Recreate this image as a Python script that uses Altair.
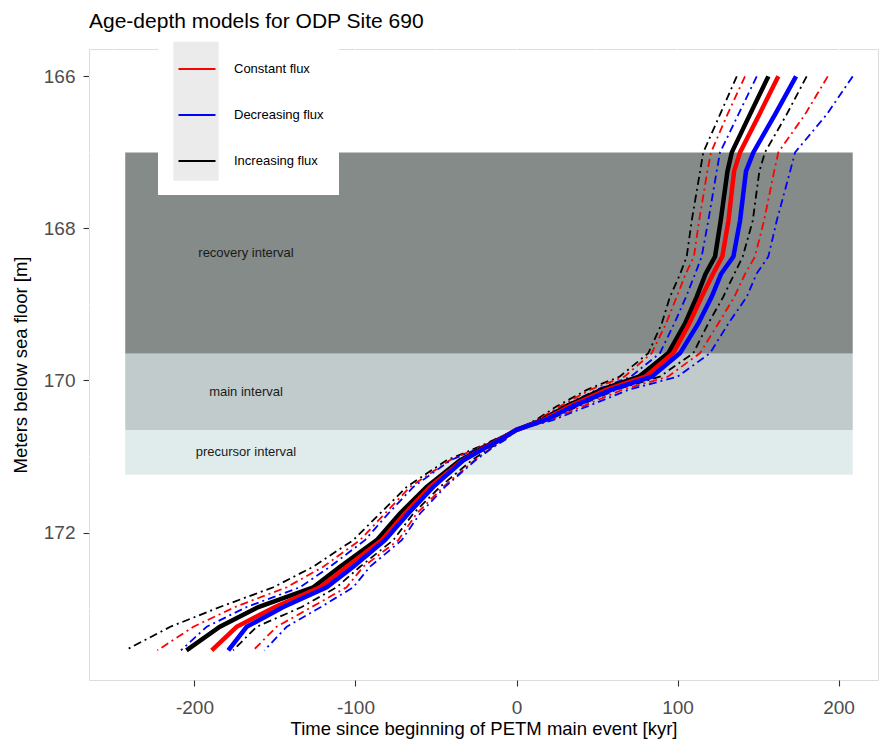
import altair as alt
import pandas as pd

# ---------------- data ----------------
depth = [166.0, 166.5, 167.0, 167.25, 167.9, 168.37, 168.6, 168.9, 169.25, 169.64, 169.95,
         170.12, 170.34, 170.52, 170.65, 170.78, 170.87, 171.05, 171.4, 171.75, 172.1,
         172.45, 172.72, 172.98, 173.24, 173.55]

# lower / median / upper bounds for each flux model (time in kyr)
inc_lo = [136.8, 126.4, 116.0, 114.0, 108.8, 105.7, 101.6, 95.3, 90.2, 81.9, 64, 44, 25, 12, 0,
          -14, -23, -43.4, -68.2, -84.8, -101.4, -126.2, -151, -184.2, -215, -243]
con_lo = [141.9, 131.0, 120.8, 118.5, 113.4, 110.2, 105.0, 99.5, 92.9, 84.0, 67, 46, 27, 13, 0,
          -13.5, -22, -41.5, -66.1, -81.7, -97.2, -120, -142.7, -174.8, -200.7, -223]
dec_lo = [149.2, 137.8, 126.4, 124.3, 119.1, 115.0, 110.9, 105.3, 98.0, 89.1, 71, 50, 29, 14, 0,
          -13, -21, -41, -64.1, -79.6, -94.1, -115.8, -134.5, -167.6, -192.4, -208.4]
inc_med = [156.4, 145.0, 133.7, 131.0, 126.8, 123.3, 117.4, 111.9, 104.7, 94.3, 76, 53, 31, 16, 0,
           -11, -19, -35.1, -55.8, -72.4, -86.8, -109.6, -126.2, -160.3, -184.2, -205]
con_med = [162.6, 150.8, 138.8, 135.1, 131.6, 127.8, 122.0, 115.0, 107.3, 97.4, 80, 56, 33, 17, 0,
           -10.5, -18.5, -33.5, -53.7, -69.3, -83.7, -105.5, -122, -150, -173.8, -189.3]
dec_med = [173.6, 160.6, 147.1, 142.5, 138.8, 134.7, 127.0, 121.2, 112.9, 101.6, 84, 59, 35, 18, 0,
           -10, -18, -33, -51.7, -67.2, -81.7, -101.4, -117.9, -144.8, -167.6, -179]
inc_hi = [180.2, 167.8, 154.3, 150.8, 146.7, 140.5, 135.2, 128.4, 119.1, 109.8, 89, 62, 38, 20, 0,
          -8, -15, -27.8, -47.5, -64.1, -76.5, -97.2, -111.7, -133.4, -161.4, -176]
con_hi = [193.3, 179.2, 162.6, 160.0, 153.7, 148.1, 141.9, 135.3, 125.3, 114.0, 94, 66, 41, 21, 0,
          -7.5, -14.5, -26, -45.5, -62, -73.4, -95.2, -105.5, -127.2, -149, -163.5]
dec_hi = [208.8, 192.7, 173.0, 169.9, 161.6, 156.4, 149.0, 143.0, 131.6, 120.2, 100, 70, 44, 23, 0,
          -7, -14, -25.5, -44.4, -59.9, -71.3, -91, -101.4, -121.5, -142.7, -156.6]

models = ["Constant flux", "Decreasing flux", "Increasing flux"]
model_colors = ["#FF0000", "#0000FF", "#000000"]

intervals = ["recovery interval", "main interval", "precursor interval"]
interval_top = [167.0, 169.65, 170.65]
interval_bottom = [169.65, 170.65, 171.24]
interval_colors = ["#848b89", "#c1cbcb", "#e0ebeb"]
interval_label_t = [-168, -168, -168]

x_ticks = [-200, -100, 0, 100, 200]
x_minor = [-250, -150, -50, 50, 150]
y_ticks = [166, 168, 170, 172]
y_minor = [167, 169, 171, 173]

# ---------------- tables ----------------
def series(model, kind, vals):
    return pd.DataFrame({"t": vals, "d": depth, "model": model, "kind": kind,
                         "sid": f"{model}-{kind}", "i": list(range(len(depth)))})

bounds_df = pd.concat([
    series("Increasing flux", "lo", inc_lo), series("Increasing flux", "hi", inc_hi),
    series("Constant flux", "lo", con_lo), series("Constant flux", "hi", con_hi),
    series("Decreasing flux", "lo", dec_lo), series("Decreasing flux", "hi", dec_hi),
])
med_df = pd.concat([
    series("Increasing flux", "med", inc_med),
    series("Constant flux", "med", con_med),
    series("Decreasing flux", "med", dec_med),
])

all_t = inc_lo + con_lo + dec_lo + inc_med + con_med + dec_med + inc_hi + con_hi + dec_hi
rect_df = pd.DataFrame({
    "name": intervals, "d": interval_top, "d2": interval_bottom,
    "t": [min(all_t)] * 3, "t2": [max(all_t)] * 3,
})
label_df = pd.DataFrame({
    "name": intervals,
    "d": [(a + b) / 2 for a, b in zip(interval_top, interval_bottom)],
    "t": interval_label_t,
})

FONT = "Liberation Sans"

xscale = alt.Scale(domain=[-265.5, 224.5], nice=False, zero=False)
yscale = alt.Scale(domain=[165.64, 173.94], nice=False, zero=False, reverse=True)

xaxis = alt.Axis(values=x_ticks, title="Time since beginning of PETM main event [kyr]",
                 labelExpr="toString(datum.value)",
                 grid=False, domain=False, tickSize=6, tickWidth=1.1, tickColor="#333333",
                 labelFontSize=19, labelColor="#4d4d4d", labelFont=FONT, labelPadding=12,
                 titleFontSize=18.5, titleFontWeight="normal", titleColor="#000000",
                 titleFont=FONT, titlePadding=2)
yaxis = alt.Axis(values=y_ticks, title="Meters below sea floor [m]",
                 labelExpr="toString(datum.value)",
                 grid=False, domain=False, tickSize=6, tickWidth=1.1, tickColor="#333333",
                 labelFontSize=19, labelColor="#4d4d4d", labelFont=FONT, labelPadding=8,
                 titleFontSize=18.5, titleFontWeight="normal", titleColor="#000000",
                 titleFont=FONT, titlePadding=13)

X = alt.X("t:Q", scale=xscale, axis=xaxis)
Y = alt.Y("d:Q", scale=yscale, axis=yaxis)

minor_v = alt.Chart(pd.DataFrame({"t": x_minor})).mark_rule(color="white", strokeWidth=0.7).encode(x=X)
major_v = alt.Chart(pd.DataFrame({"t": x_ticks})).mark_rule(color="white", strokeWidth=1.4).encode(x=X)
minor_h = alt.Chart(pd.DataFrame({"d": y_minor})).mark_rule(color="white", strokeWidth=0.7).encode(y=Y)
major_h = alt.Chart(pd.DataFrame({"d": y_ticks})).mark_rule(color="white", strokeWidth=1.4).encode(y=Y)

rects = alt.Chart(rect_df).mark_rect().encode(
    x=X, x2="t2:Q", y=Y, y2="d2:Q",
    fill=alt.Fill("name:N", scale=alt.Scale(domain=intervals, range=interval_colors), legend=None),
)
labels = alt.Chart(label_df).mark_text(fontSize=13, font=FONT, color="#1a1a1a",
                                       align="center", baseline="middle").encode(
    x=X, y=Y, text="name:N")

color_scale = alt.Scale(domain=models, range=model_colors)

leg = alt.Legend(title=None, orient="none", legendX=88, legendY=0,
                 symbolType="stroke", symbolSize=1369, symbolStrokeWidth=2.2,
                 symbolDash=[10, 0], symbolOpacity=1,
                 labelFontSize=13, labelFont=FONT, labelColor="#000000", labelOffset=17,
                 rowPadding=19, padding=0, zindex=2)

bounds = alt.Chart(bounds_df).mark_line(strokeWidth=1.8, strokeDash=[8, 4, 2, 4]).encode(
    x=X, y=Y, order="i:Q", detail="sid:N",
    color=alt.Color("model:N", scale=color_scale, legend=leg),
)
medians = alt.Chart(med_df).mark_line(strokeWidth=4.5).encode(
    x=X, y=Y, order="i:Q", detail="sid:N",
    color=alt.Color("model:N", scale=color_scale, legend=leg),
)

one = pd.DataFrame({"k": [0]})
legend_bg = alt.Chart(one).mark_rect(fill="white").encode(
    x=alt.value(69), x2=alt.value(250), y=alt.value(-9), y2=alt.value(146))
legend_key = alt.Chart(one).mark_rect(fill="#ebebeb").encode(
    x=alt.value(84.3), x2=alt.value(129.7), y=alt.value(-7.3), y2=alt.value(131.7))

chart = alt.layer(
    minor_v, minor_h, major_v, major_h, rects, labels, bounds, medians, legend_bg, legend_key
).resolve_scale(color="shared").properties(
    width=789, height=631,
    title=alt.TitleParams("Age-depth models for ODP Site 690", anchor="start", frame="group",
                          fontSize=21, fontWeight="normal", font=FONT, color="#000000",
                          offset=8),
    autosize=alt.AutoSizeParams(type="none"),
    padding={"left": 89, "top": 49, "right": 1, "bottom": 61},
).configure_view(fill="#ebebeb", stroke=None).configure(background="white")

chart.save("out.html", embed_options={"renderer": "svg", "actions": False})
